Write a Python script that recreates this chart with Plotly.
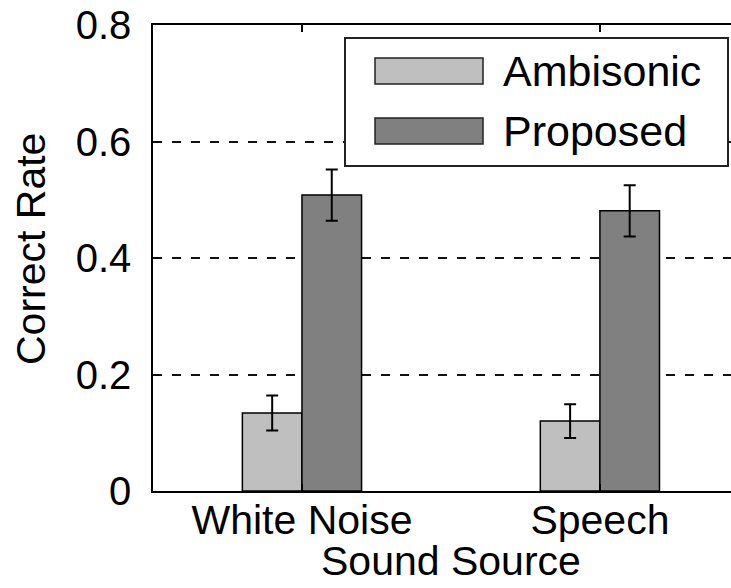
import plotly.graph_objects as go

categories = ["White Noise", "Speech"]
series_names = ["Ambisonic", "Proposed"]
ambisonic = [0.134, 0.120]
ambisonic_err = [0.030, 0.029]
proposed = [0.508, 0.481]
proposed_err = [0.044, 0.044]
y_tickvals = [0, 0.2, 0.4, 0.6, 0.8]
y_ticktext = ["0", "0.2", "0.4", "0.6", "0.8"]

colors = ["#bfbfbf", "#808080"]
FONT = "Liberation Sans, Arial, sans-serif"
W, H = 731, 588
L, T, B = 153, 25, 491
PW = W - L
PH = B - T


def px(x):
    return (x - L) / PW


def py(y):
    return (B - y) / PH


fig = go.Figure()
for name, vals, errs, col in [
    (series_names[0], ambisonic, ambisonic_err, colors[0]),
    (series_names[1], proposed, proposed_err, colors[1]),
]:
    fig.add_trace(go.Bar(
        x=categories, y=vals, name=name,
        marker=dict(color=col, line=dict(color="black", width=1.5)),
        error_y=dict(type="data", array=errs, visible=True,
                     color="black", thickness=2, width=6),
        showlegend=False,
    ))

# custom legend (large swatches as in the reference)
shapes = [dict(type="rect", xref="paper", yref="paper",
               x0=px(345), x1=px(728), y0=py(166), y1=py(38),
               line=dict(color="#222", width=2), fillcolor="white", layer="above")]
annotations = []
for i, (name, col) in enumerate(zip(series_names, colors)):
    yc = 71 + i * 60
    shapes.append(dict(type="rect", xref="paper", yref="paper",
                       x0=px(375), x1=px(483), y0=py(yc + 13), y1=py(yc - 13),
                       line=dict(color="#222", width=1.5), fillcolor=col, layer="above"))
    annotations.append(dict(text=name, xref="paper", yref="paper",
                            x=px(501), y=py(yc), xanchor="left", yanchor="middle",
                            showarrow=False, font=dict(size=43, color="black", family=FONT)))

annotations.append(dict(text="Correct Rate", xref="paper", yref="paper",
                        x=px(31), y=py(249), xanchor="center", yanchor="middle",
                        textangle=-90, showarrow=False,
                        font=dict(size=41, color="black", family=FONT)))
annotations.append(dict(text="Sound Source", xref="paper", yref="paper",
                        x=px(451), y=py(561), xanchor="center", yanchor="middle",
                        showarrow=False,
                        font=dict(size=41, color="black", family=FONT)))

fig.update_layout(
    width=W, height=H,
    margin=dict(l=L, r=0, t=T, b=H - B, pad=0, autoexpand=False),
    paper_bgcolor="white", plot_bgcolor="white",
    barmode="group", bargap=0.6, bargroupgap=0,
    font=dict(family=FONT, size=40, color="black"),
    shapes=shapes, annotations=annotations,
    showlegend=False,
)
fig.update_xaxes(
    type="category", range=[-0.5, 1.44], automargin=False,
    showline=True, linecolor="black", linewidth=1.5, mirror="ticks",
    ticks="inside", ticklen=7, tickcolor="black", tickwidth=1.5,
    showgrid=False, zeroline=False,
    tickfont=dict(size=41, family=FONT, color="black"),
    ticklabelstandoff=-8,
)
fig.update_yaxes(
    range=[0, 0.8], tickvals=y_tickvals, ticktext=y_ticktext, automargin=False,
    showline=True, linecolor="black", linewidth=1.5, mirror=False,
    ticks="inside", ticklen=6, tickcolor="black", tickwidth=1.5,
    showgrid=True, gridcolor="#111", gridwidth=1.5, griddash="9px,10px",
    zeroline=False,
    tickfont=dict(size=40, family=FONT, color="black"),
    ticklabelstandoff=12,
)
fig.write_html("out.html", config={"displayModeBar": False},
               post_script="document.body.style.margin='0px';")
